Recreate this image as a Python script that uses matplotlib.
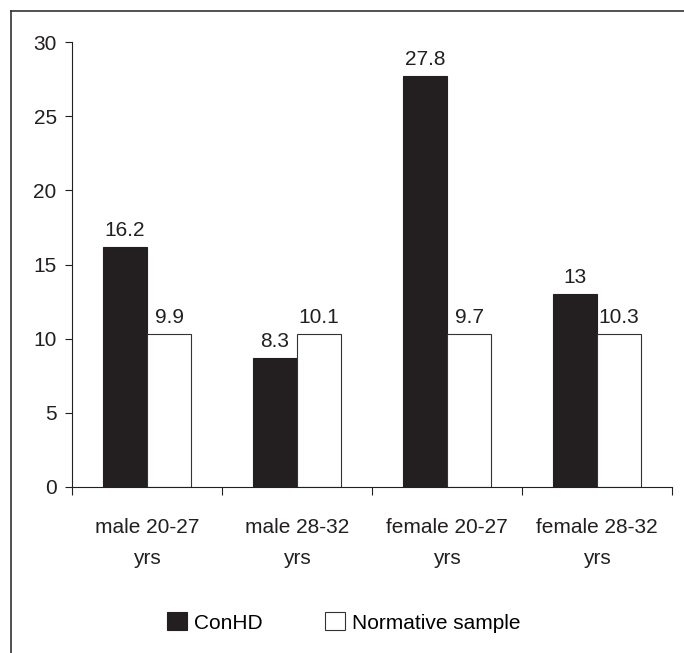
import matplotlib
matplotlib.use("Agg")
import matplotlib.pyplot as plt
from matplotlib.lines import Line2D
import numpy as np

plt.rcParams['font.family'] = ['Liberation Sans', 'DejaVu Sans']

categories = ['male 20-27\nyrs', 'male 28-32\nyrs', 'female 20-27\nyrs', 'female 28-32\nyrs']
# bar heights as drawn in the picture
conhd = [16.2, 8.7, 27.7, 13.0]
normative = [10.3, 10.3, 10.3, 10.3]
# value labels as printed above the bars
conhd_labels = ['16.2', '8.3', '27.8', '13']
normative_labels = ['9.9', '10.1', '9.7', '10.3']

fig = plt.figure(figsize=(6.84, 6.53), dpi=100)
ax = fig.add_axes([72/684, 1 - 487/653, 600/684, 445/653])

x = np.arange(len(categories))
w = 0.295
b1 = ax.bar(x - w/2, conhd, w, color='#231f20', edgecolor='#231f20', linewidth=0.8, label='ConHD')
b2 = ax.bar(x + w/2, normative, w, color='white', edgecolor='#333333', linewidth=0.8, label='Normative sample')

for bars, labs in ((b1, conhd_labels), (b2, normative_labels)):
    for bar, lab in zip(bars, labs):
        ax.annotate(lab, (bar.get_x() + bar.get_width()/2, bar.get_height()),
                    xytext=(0, 5), textcoords='offset points',
                    ha='center', va='bottom', fontsize=15, color='#231f20')

ax.set_xlim(-0.5, len(categories) - 0.5)
ax.set_ylim(0, 30)
ax.set_yticks(range(0, 31, 5))
ax.tick_params(axis='y', labelsize=15, length=5, width=0.8, pad=6, colors='#231f20')
ax.set_xticks(np.arange(-0.5, len(categories), 1.0))
ax.set_xticklabels([])
ax.set_xticks(x, minor=True)
ax.set_xticklabels(categories, minor=True, fontsize=15, linespacing=1.85)
ax.tick_params(axis='x', which='major', length=6, width=0.8, direction='out', colors='#231f20')
ax.tick_params(axis='x', which='minor', length=0, pad=22, colors='#231f20')
for s in ['top', 'right']:
    ax.spines[s].set_visible(False)
for s in ['left', 'bottom']:
    ax.spines[s].set_linewidth(0.8)
    ax.spines[s].set_color('#231f20')

fig.legend(handles=[b1, b2], loc='center', bbox_to_anchor=(0.503, 1 - 622.5/653),
           ncol=2, frameon=False, fontsize=15, handlelength=0.95, handleheight=0.95,
           handletextpad=0.35, columnspacing=3.0)

# outer frame: left and top lines only
fig.add_artist(Line2D([11/684, 11/684], [0, 1 - 11/653], transform=fig.transFigure, color='#333333', lw=1.2))
fig.add_artist(Line2D([11/684, 1], [1 - 11/653, 1 - 11/653], transform=fig.transFigure, color='#333333', lw=1.2))

fig.savefig('out.png', dpi=100)
